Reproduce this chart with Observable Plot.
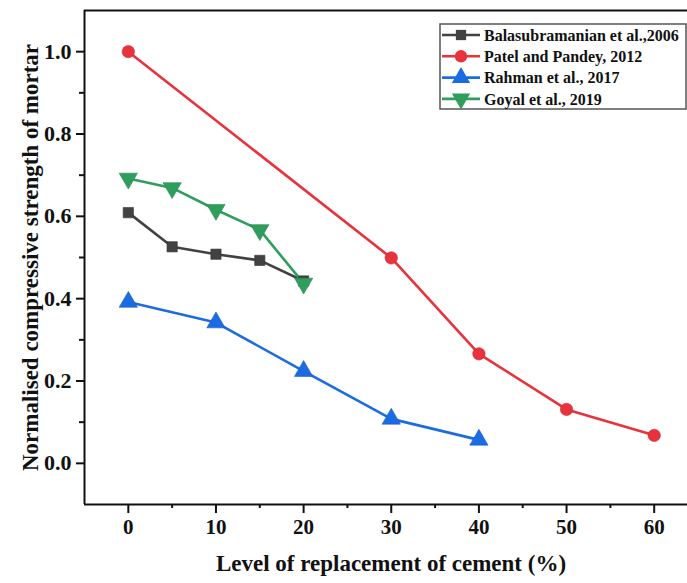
<!DOCTYPE html>
<html>
<head>
<meta charset="utf-8">
<script src="https://cdn.jsdelivr.net/npm/d3@7"></script>
<script src="https://cdn.jsdelivr.net/npm/@observablehq/plot@0.6"></script>
<style>
  html, body { margin: 0; padding: 0; background: #fff; }
  #chart svg { display: block; }
</style>
</head>
<body>
<div id="chart"></div>
<script>
// Normalised compressive strength of mortar vs. cement replacement level
const seriesNames = [
  "Balasubramanian et al.,2006",
  "Patel and Pandey, 2012",
  "Rahman et al., 2017",
  "Goyal et al., 2019"
];
const seriesColors = ["#424242", "#e8323c", "#1b6ce2", "#2f9e5c"];

const balasubramanianX = [0, 5, 10, 15, 20];
const balasubramanianY = [0.609, 0.526, 0.508, 0.493, 0.443];

const patelX = [0, 30, 40, 50, 60];
const patelY = [1.0, 0.499, 0.266, 0.131, 0.068];

const rahmanX = [0, 10, 20, 30, 40];
const rahmanY = [0.392, 0.342, 0.224, 0.108, 0.057];

const goyalX = [0, 5, 10, 15, 20];
const goyalY = [0.692, 0.669, 0.616, 0.567, 0.437];

const xMajorTicks = [0, 10, 20, 30, 40, 50, 60];
const xMinorTicks = [5, 15, 25, 35, 45, 55];
const yMajorTicks = [0.0, 0.2, 0.4, 0.6, 0.8, 1.0];
const yMinorTicks = [0.1, 0.3, 0.5, 0.7, 0.9];

const xTitle = "Level of replacement of cement (%)";
const yTitle = "Normalised compressive strength of mortar";

// downward-pointing triangle symbol
const triangleDown = {
  draw(context, size) {
    const sqrt3 = Math.sqrt(3);
    const y = -Math.sqrt(size / (sqrt3 * 3));
    context.moveTo(0, -y * 2);
    context.lineTo(sqrt3 * y, y);
    context.lineTo(-sqrt3 * y, y);
    context.closePath();
  }
};
const seriesSymbols = [d3.symbolSquare, d3.symbolCircle, d3.symbolTriangle, triangleDown];
const seriesRadius = [5.8, 6.2, 6.8, 6.8];

const xs = [balasubramanianX, patelX, rahmanX, goyalX];
const ys = [balasubramanianY, patelY, rahmanY, goyalY];
const series = seriesNames.map((name, i) => ({
  name,
  color: seriesColors[i],
  symbol: seriesSymbols[i],
  r: seriesRadius[i],
  points: xs[i].map((x, j) => ({x, y: ys[i][j]}))
}));

const font = "'Liberation Serif', 'Times New Roman', serif";
const xDomain = [-5, 63.8];
const yDomain = [-0.1, 1.1];

const chart = Plot.plot({
  width: 687,
  height: 583,
  marginLeft: 84,
  marginTop: 10,
  marginRight: 0,
  marginBottom: 79,
  style: {fontFamily: font, fontWeight: "bold", color: "#111", background: "#fff"},
  x: {domain: xDomain},
  y: {domain: yDomain},
  marks: [
    // frame: top, left and bottom edges
    Plot.ruleY([yDomain[1]], {stroke: "#111", strokeWidth: 2}),
    Plot.ruleY([yDomain[0]], {stroke: "#111", strokeWidth: 2}),
    Plot.ruleX([xDomain[0]], {stroke: "#111", strokeWidth: 2}),
    Plot.axisX({ticks: xMajorTicks, tickSize: 9, tickPadding: 6, strokeWidth: 2,
      fontSize: 21, tickFormat: d => String(d), label: null}),
    Plot.axisX({ticks: xMinorTicks, tickSize: 4, strokeWidth: 2, tickFormat: () => "", label: null}),
    Plot.axisY({ticks: yMajorTicks, tickSize: 8, tickPadding: 5, strokeWidth: 2,
      fontSize: 22, tickFormat: d3.format(".1f"), label: null}),
    Plot.axisY({ticks: yMinorTicks, tickSize: 5, strokeWidth: 2, tickFormat: () => "", label: null}),
    // axis titles
    Plot.text([xTitle], {frameAnchor: "bottom", textAnchor: "middle", dy: 66, dx: 5,
      fontSize: 23, fill: "#111"}),
    Plot.text([yTitle], {frameAnchor: "left", textAnchor: "middle", rotate: -90, dx: -54,
      fontSize: 23, fill: "#111"}),
    ...series.map(s => Plot.line(s.points, {x: "x", y: "y", stroke: s.color, strokeWidth: 2.6})),
    ...series.map(s => Plot.dot(s.points, {x: "x", y: "y", symbol: s.symbol, r: s.r,
      fill: s.color, stroke: d3.color(s.color).darker(0.4).formatHex(), strokeWidth: 0.6}))
  ]
});

// legend box inside the plot, top right
const svg = d3.select(chart);
const lg = svg.append("g").attr("font-family", font).attr("font-weight", "bold")
  .attr("text-anchor", "start");
lg.append("rect")
  .attr("x", 440).attr("y", 24).attr("width", 246).attr("height", 85)
  .attr("fill", "#fff").attr("stroke", "#555").attr("stroke-width", 1.5);
series.forEach((s, i) => {
  const cy = 35 + i * 21.3;
  lg.append("line").attr("x1", 442).attr("x2", 480).attr("y1", cy).attr("y2", cy)
    .attr("stroke", s.color).attr("stroke-width", 2.6);
  lg.append("path")
    .attr("d", d3.symbol(s.symbol, Math.PI * s.r * s.r)())
    .attr("transform", `translate(461,${cy})`)
    .attr("fill", s.color);
  lg.append("text").attr("x", 484).attr("y", cy).attr("dy", "0.35em")
    .attr("font-size", 16).attr("fill", "#111").text(s.name);
});

document.getElementById("chart").appendChild(chart);
</script>
</body>
</html>
